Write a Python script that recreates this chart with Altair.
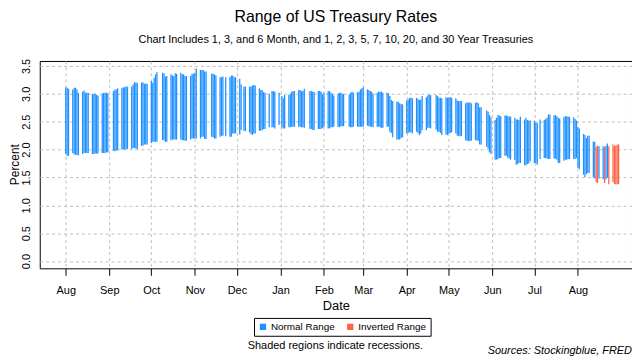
import altair as alt
import pandas as pd

FONT = "Liberation Sans"

# first Monday of the weekly blocks (Mon..Fri per row, None = no data)
first_monday = "2018-07-30"

hi = [
    [None, None, 3.12, 3.11, 3.09],
    [3.08, 3.11, 3.11, 3.08, 3.02],
    [3.04, 3.06, 3.02, 3.02, 3.02],
    [3.00, 3.00, 3.00, 2.98, 2.97],
    [3.00, 3.02, 3.02, 3.02, 3.01],
    [None, 3.05, 3.08, 3.08, 3.10],
    [3.10, 3.12, 3.12, 3.13, 3.13],
    [3.13, 3.17, 3.21, 3.20, 3.20],
    [3.20, 3.21, 3.18, 3.18, 3.18],
    [3.23, 3.20, 3.29, 3.35, 3.39],
    [None, 3.38, 3.37, 3.31, 3.32],
    [3.35, 3.33, 3.32, 3.37, 3.36],
    [3.38, 3.35, 3.35, 3.32, 3.32],
    [3.32, 3.36, 3.36, 3.38, 3.45],
    [3.43, 3.43, 3.43, 3.40, 3.40],
    [None, 3.36, 3.36, 3.35, 3.33],
    [3.30, 3.30, 3.31, None, 3.30],
    [3.30, 3.33, 3.33, 3.30, 3.30],
    [3.27, 3.17, None, 3.13, 3.13],
    [3.13, 3.13, 3.15, 3.16, 3.15],
    [3.10, 3.07, 3.07, 3.03, 3.02],
    [3.00, None, 3.05, 3.05, 3.04],
    [3.02, None, 2.96, 2.92, 2.98],
    [2.98, 3.00, 3.04, 3.05, 3.05],
    [3.07, 3.07, 3.05, 3.05, 3.09],
    [None, 3.05, 3.05, 3.04, 3.04],
    [3.05, 3.05, 3.04, 2.99, 3.02],
    [3.05, 3.05, 3.02, 3.00, 2.97],
    [3.00, 3.02, 3.02, 3.00, 3.00],
    [None, 2.99, 3.02, 3.04, 3.02],
    [3.03, 3.04, 3.08, 3.10, 3.12],
    [3.08, 3.07, 3.05, 3.04, 3.00],
    [3.02, 3.04, 3.04, 3.04, 3.02],
    [3.02, 3.01, 2.96, 2.89, 2.87],
    [2.86, 2.86, 2.83, 2.82, 2.81],
    [2.88, 2.90, 2.93, 2.93, 2.92],
    [2.93, 2.91, 2.89, 2.90, 2.96],
    [2.94, 2.97, 2.99, 2.98, None],
    [2.98, 2.96, 2.93, 2.93, 2.92],
    [2.94, 2.93, 2.93, 2.94, 2.93],
    [2.92, 2.88, 2.87, 2.87, 2.87],
    [2.83, 2.85, 2.84, 2.85, 2.83],
    [2.84, 2.85, 2.83, 2.76, 2.76],
    [None, 2.70, 2.68, 2.62, 2.58],
    [2.53, 2.57, 2.62, 2.61, 2.60],
    [2.61, 2.61, 2.60, 2.60, 2.59],
    [2.57, 2.54, 2.54, 2.53, 2.59],
    [2.54, 2.57, 2.53, 2.52, 2.52],
    [2.52, 2.48, 2.48, None, 2.54],
    [2.53, 2.55, 2.57, 2.63, 2.63],
    [2.61, 2.62, 2.60, 2.57, 2.56],
    [2.58, 2.60, 2.60, 2.59, 2.59],
    [2.58, 2.55, 2.52, 2.40, 2.38],
    [2.28, 2.26, 2.21, 2.25, 2.25],
    [2.14, 2.14, 2.05, 2.07, 2.06],
    [2.06, 2.05, 2.07, 2.11, 2.06],
    [2.09, 2.07, 2.07, 2.09, 2.09],
]

lo = [
    [None, None, 1.92, 1.89, 1.89],
    [1.94, 1.91, 1.91, 1.90, 1.90],
    [1.92, 1.94, 1.94, 1.94, 1.94],
    [1.92, 1.92, 1.93, 1.93, 1.93],
    [1.94, 1.94, 1.94, 1.95, 1.95],
    [None, 1.98, 1.97, 1.98, 1.99],
    [2.00, 2.00, 2.00, 2.01, 2.01],
    [2.01, 2.03, 2.03, 2.02, 2.01],
    [2.07, 2.07, 2.09, 2.09, 2.09],
    [2.12, 2.14, 2.14, 2.14, 2.14],
    [None, 2.17, 2.17, 2.14, 2.14],
    [2.17, 2.18, 2.18, 2.18, 2.18],
    [2.18, 2.17, 2.17, 2.16, 2.16],
    [2.18, 2.20, 2.20, 2.20, 2.20],
    [2.20, 2.23, 2.23, 2.19, 2.19],
    [None, 2.23, 2.22, 2.20, 2.20],
    [2.23, 2.25, 2.25, None, 2.24],
    [2.23, 2.23, 2.29, 2.29, 2.29],
    [2.27, 2.35, None, 2.34, 2.33],
    [2.31, 2.28, 2.26, 2.29, 2.29],
    [2.34, 2.34, 2.35, 2.37, 2.37],
    [2.40, None, 2.40, 2.40, 2.38],
    [2.44, None, 2.40, 2.38, 2.38],
    [2.40, 2.40, 2.41, 2.41, 2.41],
    [2.41, 2.41, 2.40, 2.40, 2.39],
    [None, 2.37, 2.37, 2.35, 2.35],
    [2.37, 2.37, 2.37, 2.39, 2.41],
    [2.38, 2.38, 2.40, 2.40, 2.41],
    [2.41, 2.40, 2.42, 2.42, 2.42],
    [None, 2.41, 2.40, 2.40, 2.41],
    [2.41, 2.41, 2.41, 2.41, 2.41],
    [2.43, 2.42, 2.41, 2.41, 2.40],
    [2.41, 2.41, 2.40, 2.39, 2.39],
    [2.41, 2.41, 2.32, 2.30, 2.22],
    [2.18, 2.18, 2.18, 2.21, 2.22],
    [2.29, 2.30, 2.31, 2.31, 2.29],
    [2.32, 2.30, 2.26, 2.29, 2.35],
    [2.35, 2.39, 2.39, 2.38, None],
    [2.36, 2.32, 2.32, 2.30, 2.26],
    [2.27, 2.26, 2.29, 2.30, 2.31],
    [2.29, 2.25, 2.25, 2.24, 2.24],
    [2.17, 2.16, 2.15, 2.16, 2.16],
    [2.17, 2.16, 2.16, 2.09, 2.09],
    [None, 2.05, 2.02, 1.95, 1.92],
    [1.82, 1.82, 1.83, 1.85, 1.85],
    [1.89, 1.89, 1.86, 1.84, 1.82],
    [1.82, 1.73, 1.74, 1.76, 1.76],
    [1.72, 1.72, 1.74, 1.75, 1.79],
    [1.76, 1.76, 1.73, None, 1.83],
    [1.85, 1.85, 1.84, 1.83, 1.83],
    [1.84, 1.84, 1.82, 1.76, 1.76],
    [1.80, 1.82, 1.82, 1.83, 1.83],
    [1.83, 1.83, 1.85, 1.67, 1.65],
    [1.55, 1.51, 1.56, 1.58, 1.58],
    [1.50, 1.48, 1.42, 1.40, 1.48],
    [1.47, 1.40, 1.47, 1.50, 1.38],
    [1.42, 1.38, 1.38, 1.38, 1.38],
]

inverted_days = ["2019-08-14", "2019-08-15", "2019-08-20", "2019-08-23",
                 "2019-08-26", "2019-08-27", "2019-08-28", "2019-08-29", "2019-08-30"]

categories = ["Normal Range", "Inverted Range"]
colors = ["#1E90FF", "#FF6347"]

month_ticks = [(2018, m) for m in range(8, 13)] + [(2019, m) for m in range(1, 9)]

mondays = pd.date_range(first_monday, periods=len(hi), freq="7D")
rows = []
for mon, wh, wl in zip(mondays, hi, lo):
    for d in range(5):
        if wh[d] is None:
            continue
        day = mon + pd.Timedelta(days=d)
        key = day.strftime("%Y-%m-%d")
        rows.append({
            "date": key + "T00:00:00",
            "lo": wl[d],
            "hi": wh[d],
            "type": categories[1] if key in inverted_days else categories[0],
        })
df = pd.DataFrame(rows)

grid_color = "#BEBEBE"

bars = alt.Chart(df).mark_bar(width=1.25).encode(
    x=alt.X(
        "date:T",
        scale=alt.Scale(domain=[alt.DateTime(year=2018, month=7, date=17),
                                alt.DateTime(year=2019, month=9, date=5)]),
        axis=alt.Axis(
            title="Date",
            values=[alt.DateTime(year=y, month=m, date=1) for y, m in month_ticks],
            format="%b",
            grid=True, gridColor=grid_color, gridDash=[3, 3], gridWidth=1,
            domain=False, ticks=True, tickSize=7, tickColor="black", tickWidth=1,
            labelFont=FONT, labelFontSize=11, labelColor="black", labelPadding=9,
            labelFlush=False, labelOverlap=False,
            titleFont=FONT, titleFontSize=13, titleFontWeight="normal",
            titleColor="black", titlePadding=5,
        ),
    ),
    y=alt.Y(
        "lo:Q",
        scale=alt.Scale(domain=[-0.13, 3.59], nice=False, zero=False),
        axis=alt.Axis(
            title="Percent",
            values=[0, 0.5, 1, 1.5, 2, 2.5, 3, 3.5],
            format=".1f",
            grid=True, gridColor=grid_color, gridDash=[3, 3], gridWidth=1,
            domain=False, ticks=False, tickSize=0,
            labelAngle=270, labelAlign="center", labelBaseline="bottom",
            labelFont=FONT, labelFontSize=11, labelColor="black", labelPadding=8,
            titleFont=FONT, titleFontSize=12, titleFontWeight="normal",
            titleColor="black", titleAngle=270, titleX=-25.5, titleY=104,
            titleBaseline="middle", titleAlign="center",
        ),
    ),
    y2="hi:Q",
    color=alt.Color(
        "type:N",
        scale=alt.Scale(domain=categories, range=colors),
        legend=alt.Legend(
            title=None, orient="none", legendX=216, legendY=259,
            direction="horizontal", symbolType="square", symbolSize=40,
            symbolStrokeWidth=0, labelFont=FONT, labelFontSize=10,
            labelColor="black", strokeColor="black", padding=4,
            columnPadding=10, labelOffset=3,
        ),
    ),
)

notes = pd.DataFrame({"t": ["Shaded regions indicate recessions."]})
sources = pd.DataFrame({"t": ["Sources: Stockingblue, FRED"]})

note_text = alt.Chart(notes).mark_text(
    font=FONT, fontSize=11, color="black", align="center", baseline="alphabetic"
).encode(text="t:N", x=alt.value(298), y=alt.value(290))

src_text = alt.Chart(sources).mark_text(
    font=FONT, fontSize=11, fontStyle="italic", color="black",
    align="right", baseline="alphabetic"
).encode(text="t:N", x=alt.value(597), y=alt.value(295))

chart = alt.layer(bars, note_text, src_text).properties(
    width=597,
    height=209,
    autosize=alt.AutoSizeParams(type="none"),
    padding={"left": 32, "top": 52, "right": 0, "bottom": 91},
    title=alt.TitleParams(
        text="Range of US Treasury Rates",
        subtitle="Chart Includes 1, 3, and 6 Month, and 1, 2, 3, 5, 7, 10, 20, and 30 Year Treasuries",
        font=FONT, fontSize=16, fontWeight="normal", color="black",
        subtitleFont=FONT, subtitleFontSize=11, subtitleColor="black",
        subtitlePadding=9, anchor="middle", offset=14,
    ),
).configure_view(stroke="black", strokeWidth=1)

chart.save("out.html", embed_options={"renderer": "svg", "actions": False})
